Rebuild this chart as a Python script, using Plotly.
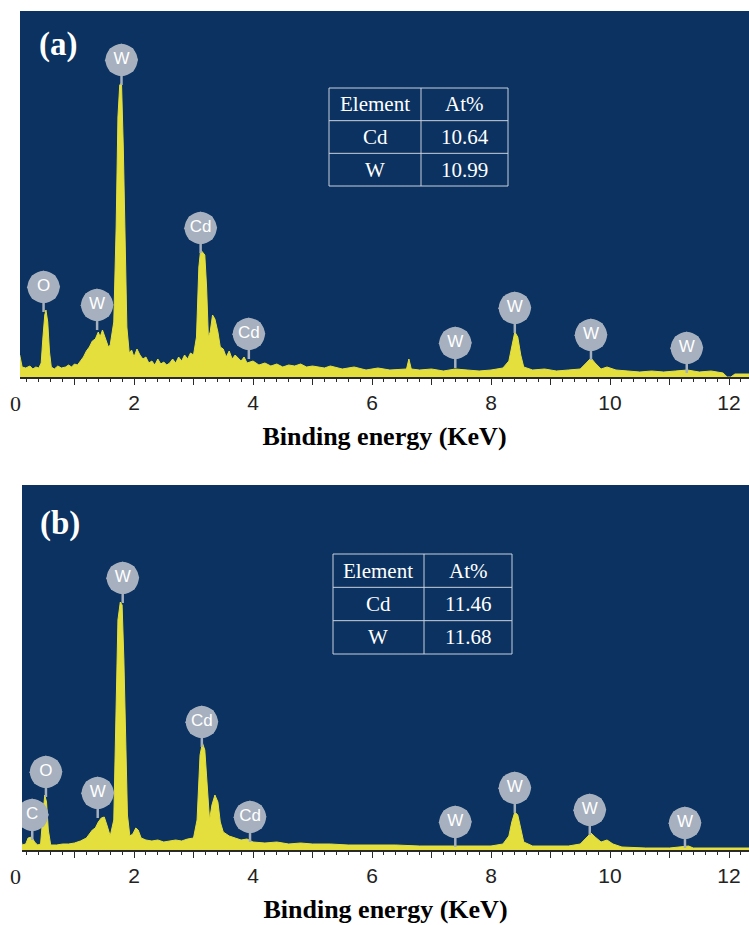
import plotly.graph_objects as go

# ---------------- data ----------------
energy_a = [0.08, 0.12, 0.18, 0.25, 0.30, 0.35, 0.40, 0.44, 0.47, 0.50, 0.52, 0.55, 0.58, 0.61, 0.66,
            0.72, 0.78, 0.85, 0.90, 0.95, 1.00, 1.05, 1.10, 1.15, 1.20, 1.25, 1.30, 1.35, 1.40, 1.43,
            1.47, 1.50, 1.53, 1.57, 1.60, 1.66, 1.70, 1.73, 1.76, 1.79, 1.82, 1.85, 1.88, 1.92, 1.96,
            2.00, 2.05, 2.10, 2.15, 2.20, 2.25, 2.30, 2.35, 2.40, 2.45, 2.50, 2.55, 2.60, 2.65, 2.70,
            2.75, 2.80, 2.85, 2.90, 2.95, 3.00, 3.05, 3.09, 3.12, 3.15, 3.19, 3.22, 3.25, 3.28, 3.32,
            3.36, 3.41, 3.45, 3.50, 3.55, 3.60, 3.65, 3.70, 3.80, 3.85, 3.90, 4.00, 4.10, 4.20, 4.30,
            4.40, 4.50, 4.60, 4.70, 4.80, 4.90, 5.00, 5.20, 5.30, 5.50, 5.70, 5.90, 6.10, 6.30, 6.50,
            6.58, 6.62, 6.66, 6.80, 7.00, 7.20, 7.40, 7.60, 7.80, 8.00, 8.20, 8.30, 8.35, 8.40, 8.45,
            8.50, 8.55, 8.70, 8.90, 9.10, 9.30, 9.50, 9.60, 9.68, 9.75, 9.85, 9.95, 10.1, 10.3, 10.5,
            10.7, 10.9, 11.1, 11.3, 11.5, 11.7, 11.9, 11.97, 12.03, 12.1, 12.34]
counts_a = [22, 10, 9, 11, 8, 10, 9, 14, 40, 62, 67, 55, 25, 10, 8,
            11, 9, 10, 12, 10, 13, 12, 16, 20, 26, 30, 36, 38, 45, 40,
            47, 42, 36, 30, 32, 55, 150, 260, 292, 294, 230, 120, 50, 24, 27,
            20, 28, 22, 18, 20, 14, 16, 12, 18, 13, 15, 12, 14, 18, 14,
            20, 16, 22, 18, 24, 22, 40, 110, 127, 125, 122, 90, 40, 45, 62,
            58, 45, 30, 28, 20, 26, 18, 22, 16, 20, 14, 16, 12, 14, 11,
            13, 10, 12, 11, 13, 10, 11, 9, 11, 8, 10, 7, 9, 7, 8,
            8, 18, 8, 7, 8, 6, 8, 7, 6, 7, 9, 16, 32, 45, 40,
            22, 10, 7, 8, 6, 7, 8, 14, 19, 14, 8, 10, 7, 6, 5,
            6, 5, 6, 7, 5, 6, 4, 0, 0, 3, 3]

energy_b = [0.08, 0.12, 0.18, 0.22, 0.28, 0.33, 0.38, 0.43, 0.47, 0.50, 0.53, 0.56, 0.60, 0.70, 0.80,
            0.90, 1.00, 1.10, 1.20, 1.30, 1.35, 1.40, 1.45, 1.50, 1.55, 1.60, 1.66, 1.70, 1.73, 1.77,
            1.80, 1.83, 1.86, 1.89, 1.93, 1.98, 2.03, 2.07, 2.12, 2.20, 2.30, 2.40, 2.50, 2.60, 2.70,
            2.80, 2.90, 3.00, 3.06, 3.11, 3.15, 3.19, 3.23, 3.27, 3.31, 3.36, 3.41, 3.45, 3.50, 3.55,
            3.60, 3.70, 3.80, 3.90, 4.00, 4.20, 4.40, 4.60, 4.80, 5.00, 5.30, 5.60, 6.00, 6.40, 6.80,
            7.20, 7.60, 8.00, 8.20, 8.30, 8.35, 8.40, 8.45, 8.50, 8.55, 8.70, 9.00, 9.30, 9.50, 9.60,
            9.68, 9.75, 9.85, 9.95, 10.05, 10.2, 10.6, 11.0, 11.25, 11.32, 11.4, 12.0, 12.34]
counts_b = [16, 5, 6, 12, 13, 8, 5, 6, 35, 55, 48, 20, 5, 5, 6,
            6, 7, 9, 12, 20, 22, 28, 32, 33, 24, 14, 30, 130, 230, 248,
            245, 190, 100, 35, 14, 16, 22, 20, 12, 10, 9, 10, 8, 9, 10,
            9, 11, 12, 30, 95, 107, 100, 60, 30, 45, 55, 48, 28, 18, 16,
            14, 12, 10, 11, 8, 7, 8, 6, 7, 6, 6, 5, 5, 5, 4,
            4, 4, 4, 6, 14, 28, 38, 35, 22, 8, 4, 4, 4, 6, 12,
            17, 13, 8, 10, 6, 3, 2, 2, 3, 4, 2, 2, 2]

# peak identification badges
badge_text_a = ["O", "W", "W", "Cd", "Cd", "W", "W", "W", "W"]
badge_x_a = [0.48, 1.38, 1.79, 3.12, 3.93, 7.40, 8.40, 9.68, 11.29]
badge_y_a = [90, 72, 317, 149, 43, 34, 69, 42, 29]

badge_text_b = ["C", "O", "W", "W", "Cd", "Cd", "W", "W", "W", "W"]
badge_x_b = [0.29, 0.52, 1.39, 1.81, 3.14, 3.95, 7.40, 8.40, 9.66, 11.26]
badge_y_b = [35, 78, 57, 272, 128, 33, 28, 62, 40, 27]

# composition tables
table_header = ["Element", "At%"]
table_elements = ["Cd", "W"]
at_percent_a = ["10.64", "10.99"]
at_percent_b = ["11.46", "11.68"]

x_tick_vals = [1, 2, 3, 4, 5, 6, 7, 8, 9, 10, 11, 12]
x_tick_text = ["", "2", "", "4", "", "6", "", "8", "", "10", "", "12"]

# ---------------- style ----------------
W, H = 749, 925
NAVY = "#0b3260"
YELLOW = "#e4df3c"
BADGE = "#a6b0be"
AXIS = "#2a2a2a"
SERIF = "Liberation Serif"
SANS = "Liberation Sans"


def px(x):
    return x / W


def py(y):
    return 1 - y / H


fig = go.Figure()

panels = [
    dict(xa="x", ya="y", e=energy_a, c=counts_a, bt=badge_text_a, bx=badge_x_a, by=badge_y_a,
         top=11, base=377, left=20, label="(a)", lab_xy=(58, 45),
         tbl=(329, 508, 421, 88, 186), at=at_percent_a),
    dict(xa="x2", ya="y2", e=energy_b, c=counts_b, bt=badge_text_b, bx=badge_x_b, by=badge_y_b,
         top=485, base=850, left=22, label="(b)", lab_xy=(60, 523),
         tbl=(333, 512, 424, 554, 654), at=at_percent_b),
]

shapes = []
annotations = []

for i, p in enumerate(panels):
    # spectrum
    fig.add_trace(go.Scatter(x=p["e"], y=p["c"], mode="lines", fill="tozeroy",
                             line=dict(color=YELLOW, width=1), fillcolor=YELLOW,
                             xaxis=p["xa"], yaxis=p["ya"], hoverinfo="skip", showlegend=False))
    # badge stems
    sx, sy = [], []
    for bx, by in zip(p["bx"], p["by"]):
        sx += [bx, bx, None]
        sy += [by, by - 25, None]
    fig.add_trace(go.Scatter(x=sx, y=sy, mode="lines", line=dict(color=BADGE, width=2.5),
                             xaxis=p["xa"], yaxis=p["ya"], hoverinfo="skip", showlegend=False))
    # badge halo (scalloped look) + badge
    fig.add_trace(go.Scatter(x=p["bx"], y=p["by"], mode="markers",
                             marker=dict(symbol="octagon", size=33, color=BADGE, angle=22,
                                         line=dict(width=0)),
                             xaxis=p["xa"], yaxis=p["ya"], hoverinfo="skip", showlegend=False))
    fig.add_trace(go.Scatter(x=p["bx"], y=p["by"], mode="markers+text", text=p["bt"],
                             textposition="middle center",
                             textfont=dict(family=SANS, size=17, color="white"),
                             marker=dict(symbol="circle", size=32, color=BADGE,
                                         line=dict(width=0)),
                             xaxis=p["xa"], yaxis=p["ya"], hoverinfo="skip", showlegend=False))

    # navy background
    shapes.append(dict(type="rect", xref="paper", yref="paper", layer="below",
                       x0=px(p["left"]), x1=1, y0=py(p["base"]), y1=py(p["top"]),
                       fillcolor=NAVY, line=dict(width=0)))

    # panel label
    annotations.append(dict(xref="paper", yref="paper", x=px(p["lab_xy"][0]), y=py(p["lab_xy"][1]),
                            text="<b>" + p["label"] + "</b>", showarrow=False,
                            font=dict(family=SERIF, size=33, color="white"),
                            xanchor="center", yanchor="middle"))
    # "0" label at origin
    annotations.append(dict(xref="paper", yref="paper", x=px(15), y=py(p["base"] + 26),
                            text="0", showarrow=False,
                            font=dict(family=SERIF, size=22, color="#222"),
                            xanchor="center", yanchor="middle"))

    # table
    x0, x1, xd, y0, y1 = p["tbl"]
    rh = (y1 - y0) / 3
    tl = dict(color="#c9d1dd", width=1)
    shapes.append(dict(type="rect", xref="paper", yref="paper", x0=px(x0), x1=px(x1),
                       y0=py(y1), y1=py(y0), line=tl, fillcolor="rgba(0,0,0,0)"))
    shapes.append(dict(type="line", xref="paper", yref="paper", x0=px(xd), x1=px(xd),
                       y0=py(y1), y1=py(y0), line=tl))
    for r in (1, 2):
        shapes.append(dict(type="line", xref="paper", yref="paper", x0=px(x0), x1=px(x1),
                           y0=py(y0 + r * rh), y1=py(y0 + r * rh), line=tl))
    rows = [table_header] + [[el, v] for el, v in zip(table_elements, p["at"])]
    for r, row in enumerate(rows):
        cy = y0 + (r + 0.5) * rh
        for cidx, txt in enumerate(row):
            cx = (x0 + xd) / 2 if cidx == 0 else (xd + x1) / 2
            annotations.append(dict(xref="paper", yref="paper", x=px(cx), y=py(cy),
                                    text=txt, showarrow=False,
                                    font=dict(family=SERIF, size=21, color="white"),
                                    xanchor="center", yanchor="middle"))

    # axes
    xkey = "xaxis" if i == 0 else "xaxis2"
    ykey = "yaxis" if i == 0 else "yaxis2"
    x_left_keV = (p["left"] - 15) / 59.5
    fig.layout[xkey] = dict(
        domain=[px(p["left"]), 1], anchor=p["ya"],
        range=[x_left_keV, (W - 15) / 59.5],
        tickmode="array", tickvals=x_tick_vals, ticktext=x_tick_text,
        ticks="outside", ticklen=6, tickwidth=1.3, tickcolor=AXIS,
        minor=dict(dtick=0.2, tick0=0, ticks="outside", ticklen=3, tickwidth=1.2, tickcolor=AXIS),
        showline=True, linecolor=AXIS, linewidth=1.5,
        showgrid=False, zeroline=False,
        tickfont=dict(family=SANS, size=21, color="#222"),
        title=dict(text="<b>Binding energy (KeV)</b>", standoff=14,
                   font=dict(family=SERIF, size=26, color="black")),
    )
    fig.layout[ykey] = dict(
        domain=[py(p["base"]), py(p["top"])], anchor=p["xa"],
        range=[0, p["base"] - p["top"]], visible=False, showgrid=False, zeroline=False,
    )

fig.update_layout(
    width=W, height=H,
    margin=dict(l=0, r=0, t=0, b=0),
    paper_bgcolor="white", plot_bgcolor="white",
    shapes=shapes, annotations=annotations,
    showlegend=False,
)

fig.write_html("out.html", config={"displayModeBar": False},
               post_script="document.body.style.margin='0';document.body.style.overflow='hidden';")
